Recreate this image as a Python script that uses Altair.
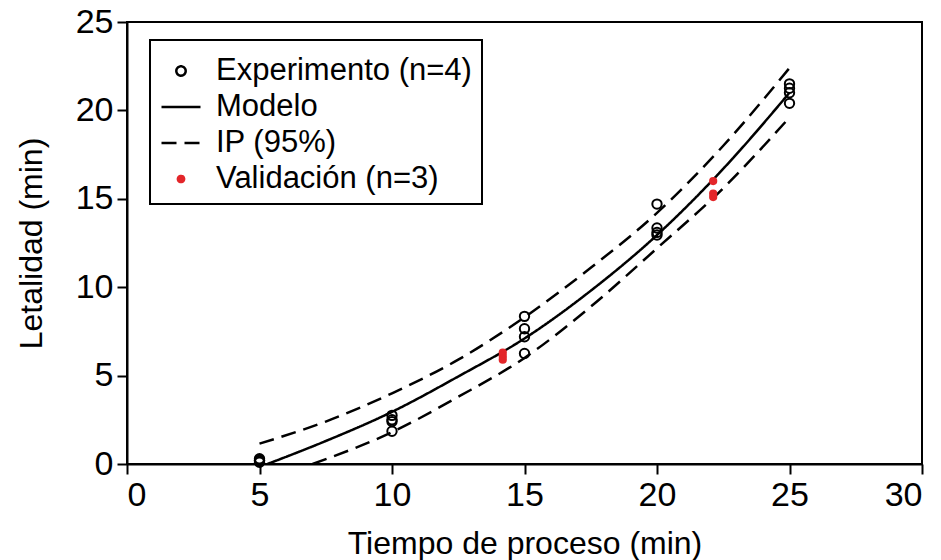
import altair as alt
import pandas as pd

series_names = ["Experimento (n=4)", "Modelo", "IP (95%)", "Validación (n=3)"]

exp_t = [5, 5, 5, 5, 10, 10, 10, 10, 15, 15, 15, 15, 20, 20, 20, 20, 25, 25, 25, 25]
exp_l = [0.3, 0.2, 0.2, 0.1, 2.75, 2.5, 2.4, 1.85, 8.35, 7.65, 7.2, 6.25,
         14.7, 13.35, 13.1, 12.95, 21.5, 21.25, 21.0, 20.4]

val_t = [14.18, 14.18, 14.18, 22.12, 22.12, 22.12]
val_l = [6.3, 6.1, 5.9, 16.0, 15.3, 15.1]

model_t = [5.3, 7.5, 10, 12.5, 15, 17.5, 20, 22.5, 25]
model_l = [0.0, 1.3, 2.95, 4.95, 7.1, 9.8, 12.95, 16.7, 21.0]

upper_t = [5, 7.5, 10, 12.5, 15, 17.5, 20, 22.5, 25]
upper_l = [1.15, 2.4, 4.0, 5.9, 8.3, 11.1, 14.2, 18.0, 22.4]

lower_t = [7.0, 10, 12.5, 15, 17.5, 20, 22.5, 25]
lower_l = [0.0, 1.8, 3.8, 6.0, 8.9, 12.2, 15.6, 19.6]

x_ticks = [0, 5, 10, 15, 20, 25, 30]
y_ticks = [0, 5, 10, 15, 20, 25]

RED = "#e3262a"
FONT = "Liberation Sans"
SYM = 1521

def circ(r):
    return f"M {-r} 0 A {r} {r} 0 1 0 {r} 0 A {r} {r} 0 1 0 {-r} 0 Z"

pts = pd.DataFrame({
    "t": exp_t + val_t,
    "L": exp_l + val_l,
    "serie": [series_names[0]] * len(exp_t) + [series_names[3]] * len(val_t),
})

lines = pd.DataFrame({
    "t": model_t + upper_t + lower_t,
    "L": model_l + upper_l + lower_l,
    "serie": [series_names[1]] * len(model_t) + [series_names[2]] * (len(upper_t) + len(lower_t)),
    "curva": ["m"] * len(model_t) + ["u"] * len(upper_t) + ["l"] * len(lower_t),
})

leg = alt.Legend(title=None)

color_enc = alt.Color("serie:N", scale=alt.Scale(domain=series_names,
                      range=["black", "black", "black", RED]), legend=leg)
dash_enc = alt.StrokeDash("serie:N", scale=alt.Scale(domain=series_names,
                          range=[[1, 0], [1, 0], [15, 8], [1, 0]]), legend=leg)
shape_enc = alt.Shape("serie:N", scale=alt.Scale(domain=series_names,
                      range=[circ(0.24), "stroke", "stroke", circ(0.16)]), legend=leg)
fill_enc = alt.Fill("serie:N", scale=alt.Scale(domain=series_names,
                    range=["transparent", "transparent", "transparent", RED]), legend=leg)

x_enc = alt.X("t:Q", scale=alt.Scale(domain=[0, 30], nice=False),
              axis=alt.Axis(values=x_ticks, title="Tiempo de proceso (min)", titlePadding=16))
y_enc = alt.Y("L:Q", scale=alt.Scale(domain=[0, 25], nice=False),
              axis=alt.Axis(values=y_ticks, title="Letalidad (min)", titlePadding=27))

line_layer = alt.Chart(lines).mark_line(strokeWidth=2.5, clip=True, interpolate="monotone").encode(
    x=x_enc, y=y_enc, color=color_enc, strokeDash=dash_enc, detail="curva:N",
    order="t:Q",
)

pt_layer = alt.Chart(pts).mark_point(size=SYM, strokeWidth=2, opacity=1).encode(
    x=x_enc, y=y_enc, color=color_enc, fill=fill_enc, shape=shape_enc,
)

chart = alt.layer(line_layer, pt_layer).properties(
    width=795, height=442,
    padding={"left": 127, "top": 22, "right": 19, "bottom": 96},
    autosize=alt.AutoSizeParams(type="none"),
).configure_view(
    stroke="black", strokeWidth=2,
).configure_axis(
    grid=False, domainColor="black", domainWidth=2, tickColor="black", tickWidth=2,
    tickSize=10, labelColor="black", titleColor="black", labelFont=FONT, titleFont=FONT,
    labelFontSize=34, titleFontSize=32, titleFontWeight="normal", labelPadding=4,
).configure_legend(
    orient="none", legendX=23, legendY=18, strokeColor="black", strokeWidth=2,
    fillColor="white", padding=10, labelFont=FONT, labelFontSize=31, labelColor="black",
    labelOffset=14, labelLimit=0, rowPadding=0, symbolSize=SYM, symbolStrokeWidth=2.5,
    symbolOpacity=1, symbolStrokeColor="black",
)

chart.save("out.html", embed_options={"renderer": "svg", "actions": False})
